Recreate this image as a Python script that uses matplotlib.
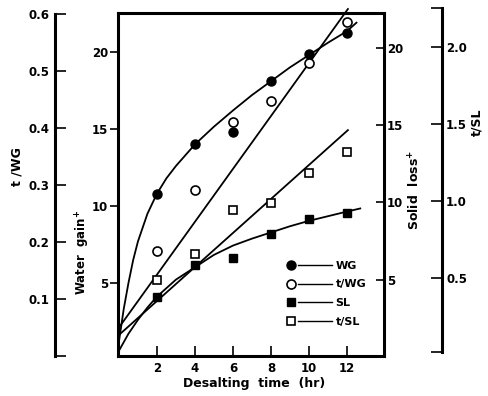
import matplotlib
matplotlib.use('Agg')
import matplotlib.pyplot as plt
from matplotlib.lines import Line2D
from matplotlib.legend_handler import HandlerBase

# measured points
hours = [2, 4, 6, 8, 10, 12]
water_gain = [10.8, 14.0, 14.8, 18.1, 19.9, 21.2]
t_wg = [0.184, 0.291, 0.41, 0.447, 0.514, 0.586]
solid_loss = [3.9, 5.95, 6.4, 7.95, 8.9, 9.3]
t_sl = [0.49, 0.656, 0.94, 0.99, 1.18, 1.32]

# fitted curves as drawn in the figure
wg_fit_t = [0, 0.25, 0.5, 0.75, 1, 1.5, 2, 2.5, 3, 4, 5, 6, 7, 8, 9, 10, 11, 12, 12.5]
wg_fit = [1.2, 3.3, 5.0, 6.5, 7.7, 9.5, 10.8, 11.8, 12.6, 14.0, 15.15, 16.2, 17.2, 18.1,
          19.0, 19.8, 20.6, 21.35, 21.9]
sl_fit_t = [0, 0.5, 1, 1.5, 2, 3, 4, 5, 6, 7, 8, 9, 10, 11, 12, 12.7]
sl_fit = [0.4, 1.5, 2.4, 3.2, 3.9, 5.0, 5.8, 6.6, 7.2, 7.65, 8.05, 8.45, 8.8, 9.1, 9.4, 9.6]
twg_fit_t = [0, 12.05]
twg_fit = [0.05, 0.609]
tsl_fit_t = [0, 12.05]
tsl_fit = [0.13, 1.46]

W, H = 488, 396
plt.rcParams['font.family'] = 'DejaVu Sans'
plt.rcParams['font.weight'] = 'bold'
plt.rcParams['font.size'] = 8.5


class MarkerLineHandler(HandlerBase):
    # marker first, then a short line, like the original key
    def create_artists(self, legend, orig_handle, xdescent, ydescent, width, height, fontsize, trans):
        y = height / 2 - ydescent
        x0 = -xdescent
        mark = Line2D([x0 + 3], [y], linestyle='none', marker=orig_handle.get_marker(),
                      markersize=orig_handle.get_markersize(),
                      markerfacecolor=orig_handle.get_markerfacecolor(),
                      markeredgecolor='black', markeredgewidth=orig_handle.get_markeredgewidth(),
                      transform=trans)
        line = Line2D([x0 + 8, x0 + width], [y, y], color='black', lw=1.0, transform=trans)
        return [mark, line]


fig = plt.figure(figsize=(W / 100, H / 100), dpi=100)

ax = fig.add_axes([118 / W, 1 - 356 / H, 266 / W, 343 / H])
ax.set_xlim(-0.05, 13.95)
ax.set_ylim(0.26, 22.53)

ax_twg = ax.twinx()
ax_twg.set_ylim(0, 0.602)
ax_sl = ax.twinx()
ax_sl.set_ylim(0.06, 22.24)
ax_tsl = fig.add_axes([118 / W, 1 - 356 / H, 266 / W, 348 / H], sharex=ax)
ax_tsl.patch.set_visible(False)
ax_tsl.set_ylim(-0.0065, 2.253)

lw = 1.3
ax.plot(wg_fit_t, wg_fit, color='black', lw=lw, clip_on=False)
ax_twg.plot(twg_fit_t, twg_fit, color='black', lw=lw, clip_on=False)
ax_sl.plot(sl_fit_t, sl_fit, color='black', lw=lw, clip_on=False)
ax_tsl.plot(tsl_fit_t, tsl_fit, color='black', lw=lw, clip_on=False)

h_wg, = ax.plot(hours, water_gain, 'o', ms=6.5, mfc='black', mec='black', mew=1.0,
                clip_on=False, zorder=5)
h_twg, = ax_twg.plot(hours, t_wg, 'o', ms=6.5, mfc='white', mec='black', mew=1.2,
                     clip_on=False, zorder=5)
h_sl, = ax_sl.plot(hours, solid_loss, 's', ms=5.5, mfc='black', mec='black', mew=1.0,
                   clip_on=False, zorder=5)
h_tsl, = ax_tsl.plot(hours, t_sl, 's', ms=5.5, mfc='white', mec='black', mew=1.2,
                     clip_on=False, zorder=5)

spw = 2.2
# main box
for s in ax.spines.values():
    s.set_linewidth(spw)
ax.set_xticks(hours)
ax.tick_params(axis='x', direction='in', length=7, width=1.2, pad=4)
ax.set_yticks([5, 10, 15, 20])
ax.tick_params(axis='y', direction='out', length=5.5, width=1.2, pad=1.5)

# t/WG axis on the far left
for k, s in ax_twg.spines.items():
    s.set_visible(k == 'left')
ax_twg.spines['left'].set_position(('outward', 63 * 0.72))
ax_twg.spines['left'].set_linewidth(spw)
ax_twg.spines['left'].set_bounds(0, 0.6)
ax_twg.yaxis.tick_left()
ax_twg.set_yticks([0, 0.1, 0.2, 0.3, 0.4, 0.5, 0.6])
ax_twg.set_yticklabels(['', '0.1', '0.2', '0.3', '0.4', '0.5', '0.6'])
ax_twg.tick_params(axis='y', direction='in', length=8, width=1.2, pad=4)

# solid loss on the box's right side
for s in ax_sl.spines.values():
    s.set_visible(False)
ax_sl.set_yticks([5, 10, 15, 20])
ax_sl.tick_params(axis='y', direction='in', length=6, width=1.2, pad=2)

# t/SL axis on the far right
for k, s in ax_tsl.spines.items():
    s.set_visible(k == 'right')
ax_tsl.spines['right'].set_position(('outward', 58 * 0.72))
ax_tsl.spines['right'].set_linewidth(spw)
ax_tsl.spines['right'].set_bounds(0.0195, 2.253)
ax_tsl.xaxis.set_visible(False)
ax_tsl.yaxis.tick_right()
ax_tsl.set_yticks([0.0195, 0.5, 1.0, 1.5, 2.0, 2.253])
ax_tsl.set_yticklabels(['', '0.5', '1.0', '1.5', '2.0', ''])
ax_tsl.tick_params(axis='y', direction='in', length=8, width=1.2, pad=3)

# axis titles
fig.text(17 / W, 1 - 167 / H, 't /WG', rotation=90, ha='center', va='center', fontsize=9)
fig.text(83 / W, 1 - 252 / H, r'Water  gain$^{\mathbf{+}}$', rotation=90,
         ha='center', va='center', fontsize=8.5)
fig.text(415 / W, 1 - 190 / H, r'Solid  loss$^{\mathbf{+}}$', rotation=90,
         ha='center', va='center', fontsize=9)
fig.text(477 / W, 1 - 122 / H, 't/SL', rotation=90, ha='center', va='center', fontsize=9)
fig.text(254 / W, 1 - 383 / H, 'Desalting  time  (hr)', ha='center', va='center', fontsize=9)

ax_tsl.legend([h_wg, h_twg, h_sl, h_tsl], ['WG', 't/WG', 'SL', 't/SL'],
              handler_map={Line2D: MarkerLineHandler()},
              loc='upper left', bbox_to_anchor=(281 / W, 1 - 255 / H),
              bbox_transform=fig.transFigure, frameon=False, borderpad=0,
              handlelength=4.1, handletextpad=0.3, labelspacing=0.8,
              prop={'weight': 'bold', 'size': 8})

fig.savefig('out.png', dpi=100)
